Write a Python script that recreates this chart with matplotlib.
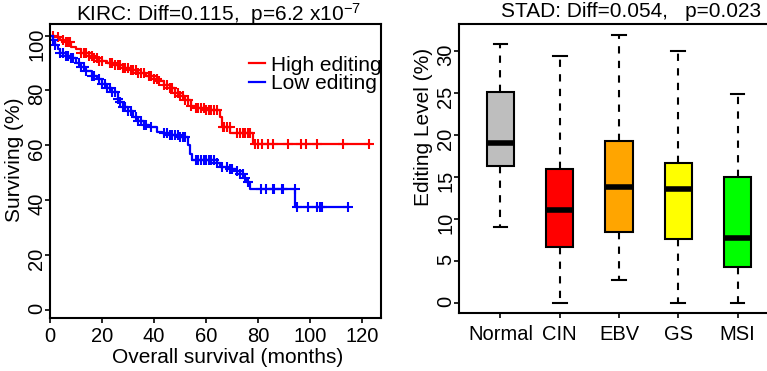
import matplotlib
matplotlib.use("Agg")
import matplotlib.pyplot as plt
import numpy as np

plt.rcParams['font.family'] = ['Liberation Sans', 'DejaVu Sans']
plt.rcParams['mathtext.fontset'] = 'custom'
plt.rcParams['mathtext.rm'] = 'Liberation Sans'
plt.rcParams['mathtext.it'] = 'Liberation Sans:italic'
plt.rcParams['axes.unicode_minus'] = True

# KIRC survival curves (Kaplan-Meier steps)
high_times = [0, 2, 4, 6, 8, 10, 12, 15, 17, 19, 22, 25, 28, 31, 34, 37, 40, 42, 44,
              46, 48, 50, 52, 54, 56, 60, 65.3, 66, 69.2, 78.1]
high_surv = [100, 99.3, 98.4, 97.5, 95.9, 95, 93.5, 92.6, 91.7, 90.8, 90, 89.2, 88.3,
             87.4, 86.2, 85.2, 84.2, 83.5, 82, 80.8, 79.2, 78, 76.5, 74.5, 73.5, 72.9,
             70.4, 66.8, 64.4, 60.6]
high_censor = [1, 3, 5, 6, 7, 7.5, 12, 13, 14, 15, 16, 17, 18, 19, 20, 23, 24, 25, 26,
               27, 28, 29, 30, 31, 32, 33, 34, 35, 36, 38, 39, 40, 41, 42, 44, 45, 46,
               47, 48, 49, 50, 51, 52, 53, 54, 56, 57, 58, 59, 60, 61, 62, 63, 64, 66.5,
               67, 68, 69, 72, 73, 74, 75, 76, 77, 78.8, 80, 81.3, 83.9, 85.6, 91.3,
               96.4, 98.2, 102.7, 112.7, 122.7]

low_times = [0, 1, 2, 3, 4, 6, 8, 10, 12, 14, 16, 18, 20, 22, 24, 26, 27, 28, 30, 32,
             34, 36, 38, 41, 43, 46, 50, 53.2, 53.8, 54.5, 64, 65.5, 69, 71.5, 73, 74.5,
             75.5, 76.8, 94.1]
low_surv = [100, 98.5, 96.5, 95, 93.5, 92.6, 91.7, 90, 88.7, 87, 85.3, 84, 82.5, 81,
            79.5, 77, 75.9, 74, 72.5, 70.4, 69, 67.5, 66.5, 65, 64.4, 63.8, 63.1, 60,
            57, 54.6, 53.5, 52, 51.5, 50.5, 49.5, 48, 46.7, 44.1, 37.6]
low_censor = [1, 2, 4, 5, 6, 7, 8, 9, 11, 12, 13, 14, 16, 17, 19, 20, 21, 22, 23, 24,
              25, 26, 27, 28, 29, 30, 31, 33, 34, 35, 36, 37, 39, 44, 45, 46, 47, 48,
              49, 50, 51, 52, 56, 57, 58, 59, 60, 61, 62, 63, 64, 66, 68, 69, 70, 72,
              73, 74, 75, 76, 80.9, 83, 85.6, 86.1, 89, 89.6, 94, 94.8, 99, 102.7,
              103.7, 104.6, 114.6]

# STAD editing level boxes
groups = ["Normal", "CIN", "EBV", "GS", "MSI"]
box_colors = ["#bebebe", "#ff0000", "#ffa500", "#ffff00", "#00ff00"]
whisk_lo = [9.0, 0.0, 2.7, 0.0, 0.0]
q1 = [16.3, 6.7, 8.4, 7.6, 4.3]
med = [19.0, 11.1, 13.8, 13.6, 7.7]
q3 = [25.1, 15.9, 19.3, 16.7, 15.0]
whisk_hi = [30.8, 29.4, 31.9, 30.0, 24.9]

FS = 15


def km_plot(ax, times, surv, censor, color, label):
	times = np.asarray(times)
	surv = np.asarray(surv)
	censor = np.asarray(censor)
	end = max(times.max(), censor.max())
	ax.step(np.append(times, end), np.append(surv, surv[-1]), where='post',
		color=color, lw=1.6, label=label)
	idx = np.searchsorted(times, censor, side='right') - 1
	ax.plot(censor, surv[idx], '+', color=color, ms=6.5, mew=1.5)


def style_ticks(ax):
	ax.tick_params(direction='out', length=3.6, width=1.2, labelsize=FS-0.5)
	ax.tick_params(axis='y', labelrotation=90, pad=-1)
	ax.tick_params(axis='x', pad=3)
	for s in ax.spines.values():
		s.set_linewidth(1.5)


def left_panel(fig):
	ax = fig.add_axes([50/767, 1-318/371, 331/767, 294/371])
	km_plot(ax, high_times, high_surv, high_censor, '#ff0000', 'High editing')
	km_plot(ax, low_times, low_surv, low_censor, '#0000ff', 'Low editing')
	ax.set_xlim(0, 127.2)
	ax.set_ylim(-2.9, 104.2)
	ax.set_xticks(range(0, 121, 20))
	ax.set_yticks(range(0, 101, 20))
	style_ticks(ax)
	ax.set_xlabel("Overall survival (months)", fontsize=FS)
	ax.set_ylabel("Surviving (%)", fontsize=FS)
	ax.xaxis.set_label_coords(0.538, -0.133)
	ax.xaxis.label.set_va('center')
	ax.yaxis.set_label_coords(-0.106, 0.537)
	ax.yaxis.label.set_va('center')
	ax.text(0.508, 1.01, "KIRC: Diff=0.115,  p=6.2 x10$^{-7}$", transform=ax.transAxes,
		ha='center', va='baseline', fontsize=FS)
	ax.legend(loc='upper left', bbox_to_anchor=(0.601, 0.892), frameon=False,
		fontsize=FS, handlelength=0.75, handletextpad=0.3, labelspacing=-0.02,
		borderpad=0, borderaxespad=0)


def right_panel(fig):
	ax = fig.add_axes([459/767, 1-313/371, 320/767, 289/371])
	stats = []
	for i, g in enumerate(groups):
		stats.append(dict(label=g, whislo=whisk_lo[i], q1=q1[i], med=med[i],
			q3=q3[i], whishi=whisk_hi[i], fliers=[]))
	bp = ax.bxp(stats, positions=range(1, len(groups) + 1), widths=0.46,
		capwidths=0.23, patch_artist=True, showfliers=False,
		boxprops=dict(linewidth=1.5, edgecolor='black'),
		medianprops=dict(color='black', linewidth=4, solid_capstyle='butt'),
		whiskerprops=dict(color='black', linewidth=1.5, linestyle=(0, (3.5, 3.5))),
		capprops=dict(color='black', linewidth=1.5))
	for patch, c in zip(bp['boxes'], box_colors):
		patch.set_facecolor(c)
	ax.set_xlim(0.3, 5.7)
	ax.set_ylim(-1.2, 33.2)
	ax.set_yticks(range(0, 31, 5))
	style_ticks(ax)
	ax.tick_params(axis='x', pad=5)
	ax.spines['right'].set_visible(False)
	ax.set_ylabel("Editing Level (%)", fontsize=FS)
	ax.yaxis.set_label_coords(-0.112, 0.644)
	ax.yaxis.label.set_va('center')
	ax.text(0.539, 1.024, "STAD: Diff=0.054,   p=0.023", transform=ax.transAxes,
		ha='center', va='baseline', fontsize=FS)


def main():
	fig = plt.figure(figsize=(7.67, 3.71), dpi=100)
	left_panel(fig)
	right_panel(fig)
	fig.savefig("out.png", dpi=100)


if __name__ == '__main__':
	main()
